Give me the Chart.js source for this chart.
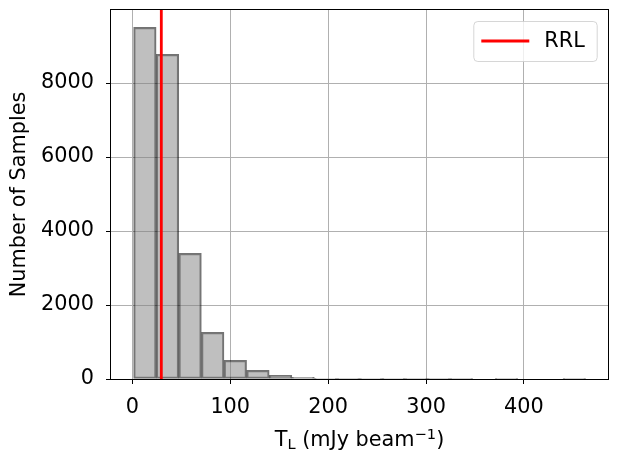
<!DOCTYPE html>
<html>
<head>
<meta charset="utf-8">
<script src="https://cdn.jsdelivr.net/npm/chart.js@4.4.0/dist/chart.umd.min.js"></script>
<style>
  html, body { margin: 0; padding: 0; background: #fff; }
  canvas { display: block; }
</style>
</head>
<body>
<canvas id="histChart" width="617" height="464"></canvas>
<script>
// histogram bins (centre, mJy/beam) and counts
const binCentres = [12.8, 35.9, 59.0, 82.1, 105.2, 128.3, 151.4, 174.4, 197.5, 220.6,
                    243.7, 266.8, 289.9, 313.0, 336.1, 359.1, 382.2, 405.3, 428.4, 451.5];
const binCounts = [9505, 8775, 3397, 1262, 505, 235, 100, 46, 19, 12,
                   6, 4, 2, 1, 1, 0, 1, 0, 0, 1];
const rrlValue = 29.6;
const rrlLabel = "RRL";
const xTicks = [0, 100, 200, 300, 400];
const yTicks = [0, 2000, 4000, 6000, 8000];
const xRange = [-21.8, 485.9];
const yRange = [0, 9975];

const FONT = "DejaVu Sans";
const FS = 20.8;

Chart.defaults.font.family = FONT;
Chart.defaults.font.size = FS;
Chart.defaults.color = "#000";

// matplotlib-like frame around the axes
const framePlugin = {
  id: "frame",
  afterDatasetsDraw(chart) {
    const { ctx, chartArea: a } = chart;
    ctx.save();
    ctx.strokeStyle = "#000";
    ctx.lineWidth = 1;
    ctx.strokeRect(Math.round(a.left) - 0.5, Math.round(a.top) - 0.5,
                   Math.round(a.right - a.left) + 1, Math.round(a.bottom - a.top) + 1);
    ctx.restore();
  },
};

// x title with subscript / superscript
const xTitlePlugin = {
  id: "xTitle",
  afterDraw(chart) {
    const { ctx, chartArea: a } = chart;
    const parts = [
      { text: "T", size: FS, dy: 0 },
      { text: "L", size: 14.6, dy: 3.3 },
      { text: " (mJy beam", size: FS, dy: 0 },
      { text: "\u22121", size: 14.6, dy: -7 },
      { text: ")", size: FS, dy: 0 },
    ];
    ctx.save();
    ctx.fillStyle = "#000";
    ctx.textBaseline = "alphabetic";
    ctx.textAlign = "left";
    let total = 0;
    parts.forEach((p) => {
      ctx.font = p.size + "px '" + FONT + "'";
      p.w = ctx.measureText(p.text).width;
      total += p.w;
    });
    let x = (a.left + a.right) / 2 - total / 2;
    const base = 446;
    parts.forEach((p) => {
      ctx.font = p.size + "px '" + FONT + "'";
      ctx.fillText(p.text, x, base + p.dy);
      x += p.w;
    });
    ctx.restore();
  },
};

// legend box in the upper right of the axes
const legendPlugin = {
  id: "legendBox",
  afterDraw(chart) {
    const { ctx, chartArea: a } = chart;
    const ds = chart.data.datasets[0];
    const right = a.right - 11.3, top = a.top + 11;
    const w = 123.4, h = 40;
    const left = right - w;
    ctx.save();
    ctx.fillStyle = "rgba(255,255,255,0.8)";
    ctx.strokeStyle = "rgba(204,204,204,0.8)";
    ctx.lineWidth = 1;
    ctx.beginPath();
    ctx.roundRect(left + 0.5, top + 0.5, w, h, 4);
    ctx.fill();
    ctx.stroke();
    const cy = top + h / 2;
    ctx.strokeStyle = ds.borderColor;
    ctx.lineWidth = ds.borderWidth;
    ctx.beginPath();
    ctx.moveTo(left + 8, cy);
    ctx.lineTo(left + 56, cy);
    ctx.stroke();
    ctx.fillStyle = "#000";
    ctx.font = FS + "px '" + FONT + "'";
    ctx.textBaseline = "middle";
    ctx.fillText(ds.label, left + 71, cy + 1);
    ctx.restore();
  },
};

const ctx = document.getElementById("histChart").getContext("2d");

const histChart = new Chart(ctx, {
  type: "bar",
  data: {
    datasets: [
      {
        type: "line",
        label: rrlLabel,
        data: [{ x: rrlValue, y: yRange[0] }, { x: rrlValue, y: yRange[1] }],
        borderColor: "#ff0000",
        borderWidth: 2.8,
        pointRadius: 0,
        order: 0,
      },
      {
        label: "hist",
        data: binCentres.map((c, i) => ({ x: c, y: binCounts[i] })),
        backgroundColor: "rgba(128,128,128,0.5)",
        borderColor: "rgba(0,0,0,0.55)",
        borderWidth: 1.5,
        borderSkipped: false,
        barPercentage: 1,
        categoryPercentage: 1,
        grouped: false,
        order: 1,
      },
    ],
  },
  options: {
    responsive: false,
    animation: false,
    layout: { padding: { top: 10, right: 9, bottom: 0, left: 0 } },
    plugins: {
      legend: { display: false },
      tooltip: { enabled: false },
    },
    scales: {
      x: {
        type: "linear",
        min: xRange[0],
        max: xRange[1],
        offset: false,
        afterBuildTicks: (s) => { s.ticks = xTicks.map((v) => ({ value: v })); },
        afterFit: (s) => { s.height = 85; s.paddingLeft = 0; s.paddingRight = 0; },
        ticks: { padding: 11, color: "#000", font: { size: FS }, callback: (v) => String(v) },
        grid: { offset: false, color: "#b0b0b0", lineWidth: 1, tickColor: "#000", tickLength: 5 },
        border: { display: false },
      },
      y: {
        min: yRange[0],
        max: yRange[1],
        afterBuildTicks: (s) => { s.ticks = yTicks.map((v) => ({ value: v })); },
        afterFit: (s) => { s.width = 111; s.paddingTop = 0; s.paddingBottom = 0; },
        ticks: { padding: 12, color: "#000", font: { size: FS }, callback: (v) => String(v) },
        grid: { color: "#b0b0b0", lineWidth: 1, tickColor: "#000", tickLength: 5 },
        border: { display: false },
        title: {
          display: true,
          text: "Number of Samples",
          color: "#000",
          font: { size: FS },
          padding: { top: 7, bottom: 0 },
        },
      },
    },
  },
  plugins: [framePlugin, xTitlePlugin, legendPlugin],
});
</script>
</body>
</html>
